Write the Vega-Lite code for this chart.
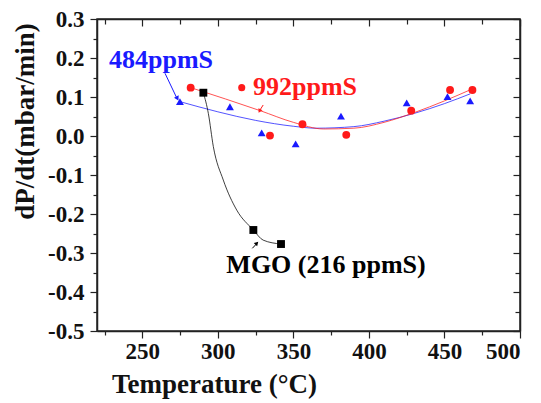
{
  "$schema": "https://vega.github.io/schema/vega-lite/v6.json",
  "width": 423,
  "height": 312,
  "autosize": {"type": "none"},
  "padding": {"left": 97, "top": 19, "right": 21, "bottom": 72},
  "background": "white",
  "config": {
    "view": {"stroke": "#222", "strokeWidth": 1.5},
    "axis": {
      "labelFont": "Liberation Serif",
      "labelFontWeight": "bold",
      "labelFontSize": 23,
      "labelColor": "#111",
      "titleFont": "Liberation Serif",
      "titleFontWeight": "bold",
      "titleColor": "#111",
      "domainColor": "#222",
      "domainWidth": 1.5,
      "tickColor": "#222",
      "tickWidth": 1.2,
      "grid": false
    }
  },
  "datasets": {
    "pts": [
      {"series": "484ppmS", "T": 274.9, "rate": 0.088},
      {"series": "484ppmS", "T": 308, "rate": 0.075},
      {"series": "484ppmS", "T": 329, "rate": 0.008},
      {"series": "484ppmS", "T": 351.5, "rate": -0.02},
      {"series": "484ppmS", "T": 381.5, "rate": 0.051},
      {"series": "484ppmS", "T": 425, "rate": 0.085},
      {"series": "484ppmS", "T": 452, "rate": 0.101},
      {"series": "484ppmS", "T": 467, "rate": 0.09},
      {"series": "992ppmS", "T": 282, "rate": 0.124},
      {"series": "992ppmS", "T": 334.5, "rate": 0.001},
      {"series": "992ppmS", "T": 356, "rate": 0.03},
      {"series": "992ppmS", "T": 385, "rate": 0.003},
      {"series": "992ppmS", "T": 428, "rate": 0.065},
      {"series": "992ppmS", "T": 453.7, "rate": 0.118},
      {"series": "992ppmS", "T": 468.5, "rate": 0.118},
      {"series": "MGO", "T": 290.4, "rate": 0.111},
      {"series": "MGO", "T": 323.5, "rate": -0.241},
      {"series": "MGO", "T": 341.8, "rate": -0.277}
    ],
    "curves": [
      {"series": "484ppmS", "T": 275, "rate": 0.088},
      {"series": "484ppmS", "T": 300, "rate": 0.062},
      {"series": "484ppmS", "T": 325, "rate": 0.04},
      {"series": "484ppmS", "T": 350, "rate": 0.025},
      {"series": "484ppmS", "T": 365, "rate": 0.02},
      {"series": "484ppmS", "T": 390, "rate": 0.024},
      {"series": "484ppmS", "T": 410, "rate": 0.038},
      {"series": "484ppmS", "T": 430, "rate": 0.058},
      {"series": "484ppmS", "T": 450, "rate": 0.083},
      {"series": "484ppmS", "T": 467, "rate": 0.108},
      {"series": "992ppmS", "T": 282, "rate": 0.124},
      {"series": "992ppmS", "T": 305, "rate": 0.095},
      {"series": "992ppmS", "T": 328, "rate": 0.065},
      {"series": "992ppmS", "T": 350, "rate": 0.035},
      {"series": "992ppmS", "T": 370, "rate": 0.018},
      {"series": "992ppmS", "T": 390, "rate": 0.02},
      {"series": "992ppmS", "T": 410, "rate": 0.035},
      {"series": "992ppmS", "T": 430, "rate": 0.06},
      {"series": "992ppmS", "T": 450, "rate": 0.09},
      {"series": "992ppmS", "T": 468, "rate": 0.12},
      {"series": "MGO", "T": 290.4, "rate": 0.111},
      {"series": "MGO", "T": 293.7, "rate": 0.058},
      {"series": "MGO", "T": 297, "rate": -0.027},
      {"series": "MGO", "T": 303.6, "rate": -0.113},
      {"series": "MGO", "T": 312.5, "rate": -0.19},
      {"series": "MGO", "T": 323.5, "rate": -0.241},
      {"series": "MGO", "T": 330, "rate": -0.267},
      {"series": "MGO", "T": 341.8, "rate": -0.277}
    ],
    "labels": [
      {"series": "484ppmS", "text": "484ppmS", "T": 262.4, "rate": 0.195},
      {"series": "992ppmS", "text": "992ppmS", "T": 357.7, "rate": 0.126},
      {"series": "MGO", "text": "MGO (216 ppmS)", "T": 371.6, "rate": -0.331}
    ],
    "arrows": [
      {"arrow": "a1", "series": "484ppmS", "T": 265, "rate": 0.161},
      {"arrow": "a1", "series": "484ppmS", "T": 272.5, "rate": 0.1},
      {"arrow": "a2", "series": "992ppmS", "T": 330, "rate": 0.0795},
      {"arrow": "a2", "series": "992ppmS", "T": 327.8, "rate": 0.066},
      {"arrow": "a3", "series": "MGO", "T": 322.8, "rate": -0.288},
      {"arrow": "a3", "series": "MGO", "T": 325.5, "rate": -0.277}
    ]
  },
  "layer": [
    {
      "data": {"name": "curves"},
      "mark": {"type": "line", "interpolate": "monotone", "strokeWidth": 1, "opacity": 0.75},
      "encoding": {
        "x": {
          "field": "T", "type": "quantitative",
          "scale": {"domain": [220, 500], "nice": false},
          "axis": {
            "orient": "bottom",
            "values": [225, 250, 275, 300, 325, 350, 375, 400, 425, 450, 475, 500],
            "tickSize": {"condition": {"test": "datum.value % 50 === 0", "value": 7}, "value": 4},
            "labelExpr": "datum.value % 50 === 0 ? datum.label : ''",
            "labelPadding": 2,
            "labelFontSize": 23,
            "title": "Temperature (°C)",
            "titleFontSize": 27,
            "titleX": 117,
            "titleY": 53,
            "titleAlign": "center",
            "titleBaseline": "middle"
          }
        },
        "y": {
          "field": "rate", "type": "quantitative",
          "scale": {"domain": [-0.5, 0.3], "nice": false},
          "axis": {
            "orient": "left",
            "values": [-0.5, -0.45, -0.4, -0.35, -0.3, -0.25, -0.2, -0.15, -0.1, -0.05, 0, 0.05, 0.1, 0.15, 0.2, 0.25, 0.3],
            "tickSize": {"condition": {"test": "abs(round(datum.value * 20)) % 2 === 0", "value": 7}, "value": 4},
            "labelExpr": "abs(round(datum.value * 20)) % 2 === 0 ? replace(format(datum.value, '.1f'), '\u2212', '-') : ''",
            "labelPadding": 6,
            "title": "dP/dt(mbar/min)",
            "titleFontSize": 27,
            "titleX": -72,
            "titleY": 102,
            "titleAngle": -90,
            "titleAlign": "center",
            "titleBaseline": "middle"
          }
        },
        "detail": {"field": "series"},
        "color": {
          "field": "series", "type": "nominal",
          "scale": {"domain": ["484ppmS", "992ppmS", "MGO"], "range": ["#1a1aff", "#ff1a1a", "#000000"]},
          "legend": null
        }
      }
    },
    {
      "data": {"name": "pts"},
      "mark": {"type": "point", "filled": true, "opacity": 1, "size": 62},
      "encoding": {
        "x": {
          "field": "T", "type": "quantitative",
          "axis": {
            "orient": "top",
            "values": [225, 250, 275, 300, 325, 350, 375, 400, 425, 450, 475, 500],
            "tickSize": {"condition": {"test": "datum.value % 50 === 0", "value": -7}, "value": -5},
            "labels": false,
            "title": null
          }
        },
        "y": {
          "field": "rate", "type": "quantitative",
          "axis": {
            "orient": "right",
            "values": [-0.5, -0.45, -0.4, -0.35, -0.3, -0.25, -0.2, -0.15, -0.1, -0.05, 0, 0.05, 0.1, 0.15, 0.2, 0.25, 0.3],
            "tickSize": {"condition": {"test": "abs(round(datum.value * 20)) % 2 === 0", "value": -7}, "value": -5},
            "labels": false,
            "title": null
          }
        },
        "shape": {
          "field": "series", "type": "nominal",
          "scale": {"domain": ["484ppmS", "992ppmS", "MGO"], "range": ["triangle-up", "circle", "square"]},
          "legend": null
        },
        "color": {"field": "series", "type": "nominal", "legend": null}
      }
    },
    {
      "data": {"values": [{"series": "992ppmS", "T": 315.8, "rate": 0.124}]},
      "mark": {"type": "circle", "size": 50, "opacity": 1, "color": "#ff1a1a"},
      "encoding": {
        "x": {"field": "T", "type": "quantitative", "axis": null},
        "y": {"field": "rate", "type": "quantitative", "axis": null}
      }
    },
    {
      "data": {"name": "arrows"},
      "mark": {"type": "line", "strokeWidth": 1},
      "encoding": {
        "x": {"field": "T", "type": "quantitative", "axis": null},
        "y": {"field": "rate", "type": "quantitative", "axis": null},
        "detail": {"field": "arrow"},
        "color": {"field": "series", "type": "nominal", "legend": null}
      }
    },
    {
      "data": {"values": [{"series": "484ppmS", "T": 273.2, "rate": 0.096}]},
      "mark": {"type": "point", "shape": "triangle-down", "filled": true, "size": 28, "angle": 333, "opacity": 1, "color": "#1a1aff"},
      "encoding": {
        "x": {"field": "T", "type": "quantitative", "axis": null},
        "y": {"field": "rate", "type": "quantitative", "axis": null}
      }
    },
    {
      "data": {"values": [{"series": "992ppmS", "T": 327.6, "rate": 0.064}]},
      "mark": {"type": "point", "shape": "triangle-down", "filled": true, "size": 22, "angle": 28, "opacity": 1, "color": "#ff1a1a"},
      "encoding": {
        "x": {"field": "T", "type": "quantitative", "axis": null},
        "y": {"field": "rate", "type": "quantitative", "axis": null}
      }
    },
    {
      "data": {"values": [{"series": "MGO", "T": 325.8, "rate": -0.275}]},
      "mark": {"type": "point", "shape": "triangle-up", "filled": true, "size": 22, "angle": 44, "opacity": 1, "color": "#000000"},
      "encoding": {
        "x": {"field": "T", "type": "quantitative", "axis": null},
        "y": {"field": "rate", "type": "quantitative", "axis": null}
      }
    },
    {
      "data": {"name": "labels"},
      "mark": {"type": "text", "font": "Liberation Serif", "fontWeight": "bold", "fontSize": 26, "align": "center", "baseline": "middle"},
      "encoding": {
        "x": {"field": "T", "type": "quantitative", "axis": null},
        "y": {"field": "rate", "type": "quantitative", "axis": null},
        "text": {"field": "text"},
        "color": {"field": "series", "type": "nominal", "legend": null}
      }
    }
  ],
  "resolve": {"axis": {"x": "independent", "y": "independent"}}
}
